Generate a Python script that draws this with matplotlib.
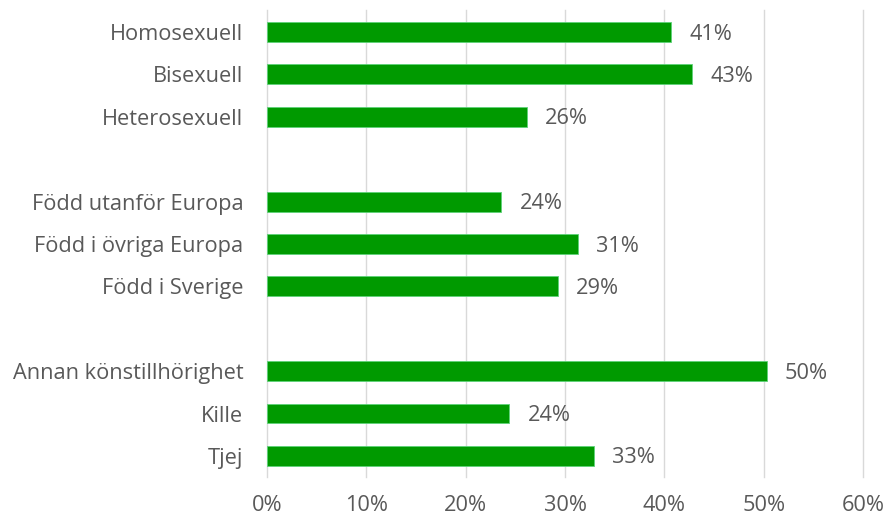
import matplotlib

matplotlib.use("Agg")
import matplotlib.pyplot as plt
from matplotlib.ticker import MultipleLocator, FuncFormatter

plt.rcParams["font.family"] = ["Open Sans", "DejaVu Sans"]

# Data (top to bottom)
categories = [
    "Homosexuell", "Bisexuell", "Heterosexuell",
    "Född utanför Europa", "Född i övriga Europa", "Född i Sverige",
    "Annan könstillhörighet", "Kille", "Tjej",
]
values = [40.7, 42.8, 26.2, 23.6, 31.3, 29.3, 50.3, 24.4, 32.9]
group_size = 3

BAR = "#009A00"
EDGE = "#5ED27A"
TEXT = "#595959"
GRID = "#D9D9D9"
FS = 15.7

positions = [i + i // group_size for i in range(len(categories))]

fig = plt.figure(figsize=(8.87, 5.22), dpi=100)
ax = fig.add_axes([0.301, 0.086, 0.672, 0.895])

ax.barh(positions, values, height=0.47, color=BAR, edgecolor=EDGE, linewidth=0.6, zorder=3)
for p, v in zip(positions, values):
    ax.annotate(f"{v:.0f}%", (v, p), xytext=(13, -1.5), textcoords="offset points",
                va="center", ha="left", color=TEXT, fontsize=FS)

ax.set_yticks(positions)
ax.set_yticklabels(categories)
ax.set_ylim(10.5, -0.52)
ax.set_xlim(0, 60)
ax.xaxis.set_major_locator(MultipleLocator(10))
ax.xaxis.set_major_formatter(FuncFormatter(lambda x, _: f"{x:.0f}%"))

ax.grid(axis="x", color=GRID, linewidth=1.0, zorder=0, clip_on=False)
for s in ("top", "right", "bottom", "left"):
    ax.spines[s].set_visible(False)
ax.tick_params(axis="both", length=0, colors=TEXT, labelsize=FS)
ax.tick_params(axis="y", pad=17)
ax.tick_params(axis="x", pad=13)

fig.savefig("out.png", dpi=100)
